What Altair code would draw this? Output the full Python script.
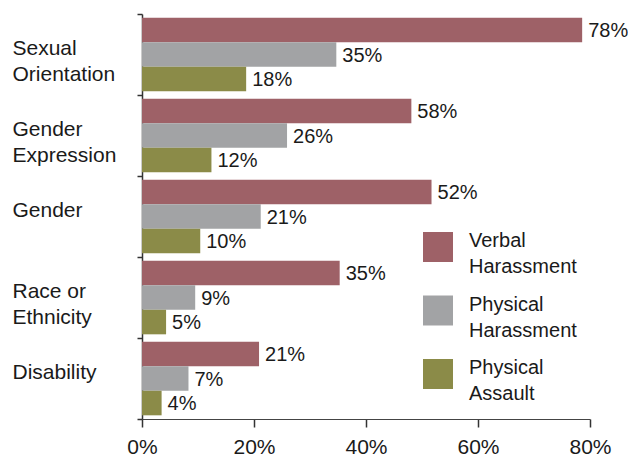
import altair as alt
import pandas as pd

categories = ["Sexual\nOrientation", "Gender\nExpression", "Gender", "Race or\nEthnicity", "Disability"]
series = ["Verbal\nHarassment", "Physical\nHarassment", "Physical\nAssault"]

verbal = [78.6, 48.1, 51.7, 35.3, 20.9]
physical_harassment = [34.7, 25.9, 21.2, 9.5, 8.3]
physical_assault = [18.6, 12.4, 10.4, 4.3, 3.5]

verbal_labels = ["78%", "58%", "52%", "35%", "21%"]
physical_harassment_labels = ["35%", "26%", "21%", "9%", "7%"]
physical_assault_labels = ["18%", "12%", "10%", "5%", "4%"]

colors = ["#9E6167", "#A2A3A5", "#8B8B48"]
x_ticks = [0, 20, 40, 60, 80]

rows = []
for s, vals, labs in zip(series,
                         [verbal, physical_harassment, physical_assault],
                         [verbal_labels, physical_harassment_labels, physical_assault_labels]):
    for c, v, l in zip(categories, vals, labs):
        rows.append({"category": c, "series": s, "value": v, "label": l})
df = pd.DataFrame(rows)

FONT = "Liberation Sans"
TXT = "#1a1a1a"

y = alt.Y("category:N", sort=categories,
          scale=alt.Scale(paddingInner=0, paddingOuter=0),
          axis=alt.Axis(title=None, labelExpr="split(datum.label, '\\n')",
                        labelAlign="left", labelBaseline="middle", labelPadding=125,
                        labelOffset=-6, labelLineHeight=26,
                        tickSize=5, tickBand="extent", labelFontSize=21,
                        labelColor=TXT, labelFont=FONT, domainColor="#333", tickColor="#333",
                        domainWidth=1.5, tickWidth=1.5))
yoff = alt.YOffset("series:N", sort=series, scale=alt.Scale(paddingInner=0, paddingOuter=0.15))
x = alt.X("value:Q", scale=alt.Scale(domain=[0, 80], nice=False),
          axis=alt.Axis(values=x_ticks, labelExpr="datum.value + '%'", title=None, grid=False,
                        tickSize=8, labelPadding=9, labelFontSize=21, labelColor=TXT, labelFont=FONT,
                        domainColor="#444", tickColor="#333", tickWidth=1.5, labelFlush=False))

bars = alt.Chart(df).mark_bar().encode(
    x=x, y=y, yOffset=yoff,
    color=alt.Color("series:N", sort=series,
                    scale=alt.Scale(domain=series, range=colors),
                    legend=alt.Legend(title=None, orient="none", legendX=281, legendY=218,
                                      symbolType="square", symbolSize=900, symbolStrokeWidth=0,
                                      labelOffset=16, labelFontSize=20,
                                      labelBaseline="alphabetic", labelFont=FONT, labelColor=TXT,
                                      labelExpr="split(datum.label, '\\n')", labelLimit=300,
                                      rowPadding=17.5, padding=0)),
)

text = alt.Chart(df).mark_text(align="left", baseline="middle", dx=6, dy=1, fontSize=20,
                               font=FONT, color=TXT).encode(
    x="value:Q", y=alt.Y("category:N", sort=categories), yOffset=alt.YOffset("series:N", sort=series),
    text="label:N")

chart = alt.layer(bars, text).properties(
    width=448, height=405,
    autosize=alt.AutoSizeParams(type="none"),
    padding={"left": 134, "top": 6, "right": 38, "bottom": 37},
).configure(font=FONT, style={"guide-label": {"lineHeight": 26}}).configure_view(strokeWidth=0)

chart.save("out.html", embed_options={"renderer": "svg", "actions": False})
